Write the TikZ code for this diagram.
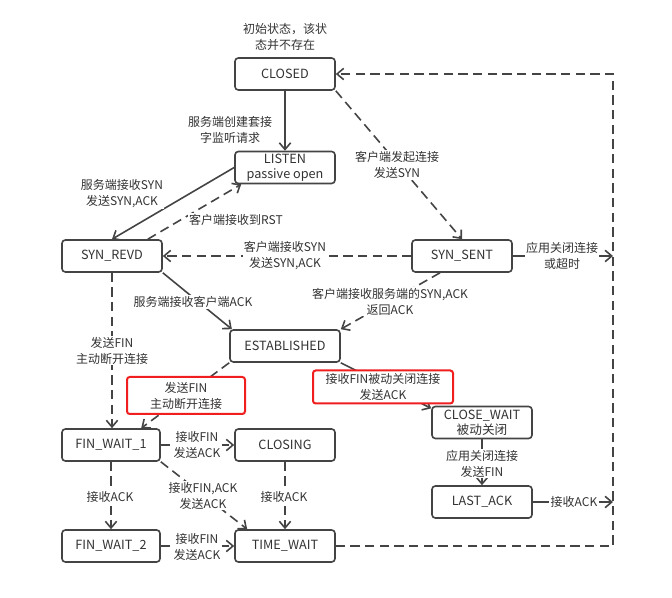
\documentclass[tikz,border=0pt]{standalone}
\usepackage{fontspec}
\setmainfont{Noto Sans CJK SC}
\usetikzlibrary{arrows.meta}
\definecolor{linec}{HTML}{444444}
\definecolor{textc}{HTML}{333333}
\definecolor{redc}{HTML}{F01E1E}
\begin{document}
\begin{tikzpicture}[x=0.75pt,y=-0.75pt,
  statebox/.style={draw=linec, line width=1.2pt, rounded corners=2.5pt, fill=white,
    minimum width=75pt, minimum height=24pt, inner sep=1pt, text=textc, align=center,
    font=\fontsize{9.5}{11.5}\selectfont},
  lbl/.style={fill=white, inner sep=1pt, text=textc, align=center,
    font=\fontsize{9}{12}\selectfont},
  redlbl/.style={lbl, draw=redc, line width=1.5pt, rounded corners=2pt},
  conn/.style={draw=linec, line width=1.2pt, -{Straight Barb[length=5pt,width=8.5pt]}},
  dconn/.style={conn, dash pattern=on 7pt off 4pt},
  dline/.style={draw=linec, line width=1.2pt, dash pattern=on 7pt off 4pt}]
\useasboundingbox (0,0) rectangle (672,598);

% states
\node[statebox] (closed) at (285,74) {CLOSED};
\node[statebox] (listen) at (285,167.5) {LISTEN\\passive open};
\node[statebox] (synrevd) at (112,256) {SYN\_REVD};
\node[statebox] (synsent) at (462,256) {SYN\_SENT};
\node[statebox, minimum width=82.5pt] (established) at (285,346) {ESTABLISHED};
\node[statebox] (closewait) at (482,422.5) {CLOSE\_WAIT\\被动关闭};
\node[statebox, minimum width=73.5pt] (finwait1) at (111,445) {FIN\_WAIT\_1};
\node[statebox] (closing) at (285,445) {CLOSING};
\node[statebox] (lastack) at (482,502) {LAST\_ACK};
\node[statebox, minimum width=73.5pt] (finwait2) at (111,546) {FIN\_WAIT\_2};
\node[statebox] (timewait) at (285,546) {TIME\_WAIT};

\coordinate (ctr) at (613,74);
\coordinate (cbr) at (613,546);
\coordinate (rs) at (613,256);
\coordinate (ra) at (613,502);

% connectors
\draw[conn] (closed) -- (listen);
\draw[conn] (listen.west) -- (synrevd.north);
\draw[dconn] ([xshift=-11.25pt]synrevd.north east) -- ([xshift=5.25pt]listen.south west);
\draw[dconn] (closed.south east) -- (synsent.north);
\draw[dconn] (synsent.west) -- (synrevd.east);
\draw[conn] (synrevd.south east) -- ([xshift=2pt]established.north west);
\draw[dconn] ([xshift=-16.5pt]synsent.south) -- (established.north east);
\draw[dconn] (synrevd.south) -- (synrevd.south |- finwait1.north);
\draw[dconn] (established.south west) -- ([xshift=60pt]finwait1.north west);
\draw[conn] (established.south east) -- ([yshift=-2pt]closewait.north west);
\draw[conn] (closewait.south) -- (lastack.north);
\draw[conn] (synsent.east) -- (rs);
\draw[conn] (lastack.east) -- (ra);
\draw[dconn] (finwait1.east) -- (closing.west);
\draw[dconn] (finwait1.south) -- (finwait2.north);
\draw[dconn] (finwait1.south east) -- ([xshift=9.75pt]timewait.north west);
\draw[dconn] (closing.south) -- (timewait.north);
\draw[dconn] (finwait2.east) -- (timewait.west);
\draw[dconn] (timewait.east) -- (cbr) -- (ctr) -- (closed.east);

% labels
\node[lbl, fill=none] (linit) at (285,37) {初始状态，该状\\态并不存在};
\node[lbl] (lcreate) at (230,130) {服务端创建套接\\字监听请求};
\node[lbl] (lsyn) at (122,193.5) {服务端接收SYN\\发送SYN,ACK};
\node[lbl] (lrst) at (236,220) {客户端接收到RST};
\node[lbl] (lconn) at (397,165) {客户端发起连接\\发送SYN};
\node[lbl] (lsynack) at (285,255.5) {客户端接收SYN\\发送SYN,ACK};
\node[lbl] (ltimeout) at (562,256) {应用关闭连接\\或超时};
\node[lbl] (lack) at (193,302) {服务端接收客户端ACK};
\node[lbl] (lretack) at (390,301.5) {客户端接收服务端的SYN,ACK\\返回ACK};
\node[lbl] (lfin1) at (112,350.5) {发送FIN\\主动断开连接};
\node[redlbl, minimum width=88.5pt, minimum height=27.75pt] (lfin2) at (186,395.5) {发送FIN\\主动断开连接};
\node[redlbl, minimum width=105pt, minimum height=24.75pt] (lpassive) at (383,387) {接收FIN被动关闭连接\\发送ACK};
\node[lbl] (lclosefin) at (482,463.5) {应用关闭连接\\发送FIN};
\node[lbl] (lfinack1) at (197,445) {接收FIN\\发送ACK};
\node[lbl] (lack1) at (110,497) {接收ACK};
\node[lbl] (lfinack2) at (203,495.5) {接收FIN,ACK\\发送ACK};
\node[lbl] (lack2) at (284,497) {接收ACK};
\node[lbl] (lfinack3) at (197,546.5) {接收FIN\\发送ACK};
\node[lbl] (lack3) at (574,502) {接收ACK};
\end{tikzpicture}
\end{document}
